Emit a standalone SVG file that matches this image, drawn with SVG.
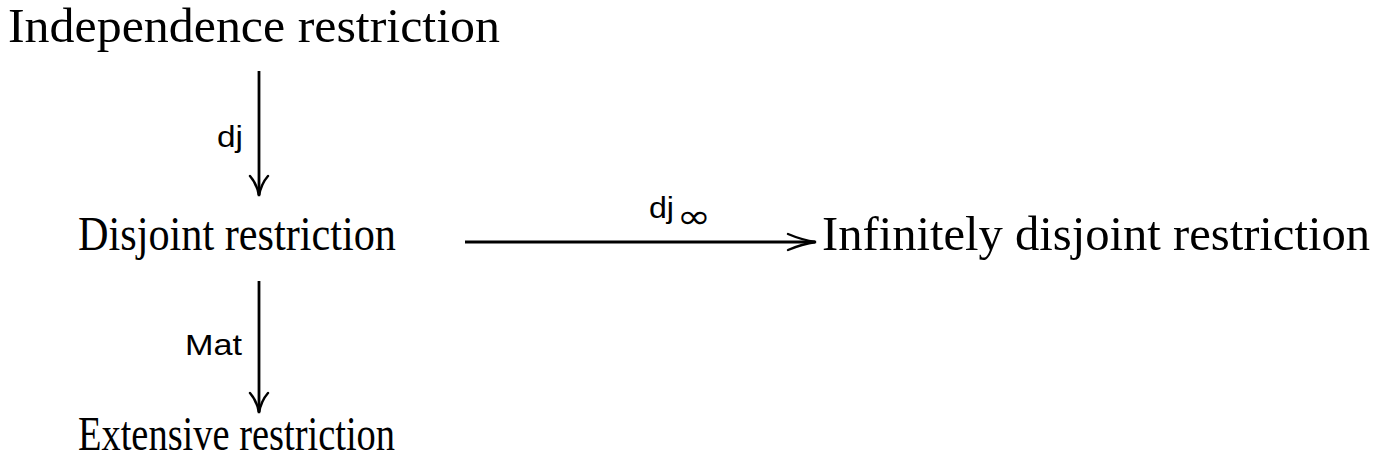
<svg xmlns="http://www.w3.org/2000/svg" width="1384" height="466" viewBox="0 0 1384 466">
<style>
.n{font-family:"Liberation Serif","Times New Roman",serif;font-size:48px;fill:#000}
.l{font-family:"Liberation Sans","DejaVu Sans",sans-serif;font-size:29px;fill:#000}
.c{stroke:#000;stroke-width:2.8;fill:none}
.h{stroke:#000;stroke-width:2.4;fill:none;stroke-linecap:round}
</style>
<rect width="1384" height="466" fill="#fff"/>
<g id="n1"><text class="n" x="8" y="42" textLength="492" lengthAdjust="spacingAndGlyphs">Independence restriction</text></g>
<g id="n2"><text class="n" x="78" y="250" textLength="318" lengthAdjust="spacingAndGlyphs">Disjoint restriction</text></g>
<g id="n3"><text class="n" x="822" y="250" textLength="548" lengthAdjust="spacingAndGlyphs">Infinitely disjoint restriction</text></g>
<g id="n4"><text class="n" x="78" y="450" textLength="317" lengthAdjust="spacingAndGlyphs">Extensive restriction</text></g>
<g id="edges">
<path class="c" d="M259 71V195"/>
<path class="h" d="M250 176Q257 184 259 196Q261 184 268 176"/>
<text class="l" x="217" y="147" textLength="26" lengthAdjust="spacingAndGlyphs">dj</text>
<path class="c" d="M465 242H815"/>
<path class="h" d="M788 234Q802 240 816 242Q802 244 788 250"/>
<text class="l" x="649" y="218" textLength="25" lengthAdjust="spacingAndGlyphs">dj</text><text x="677" y="228" font-family="DejaVu Sans,sans-serif" font-size="34" textLength="34" lengthAdjust="spacingAndGlyphs">∞</text>
<path class="c" d="M259 281V412"/>
<path class="h" d="M250 393Q257 401 259 413Q261 401 268 393"/>
<text class="l" x="185" y="355" textLength="57" lengthAdjust="spacingAndGlyphs">Mat</text>
</g>
</svg>
